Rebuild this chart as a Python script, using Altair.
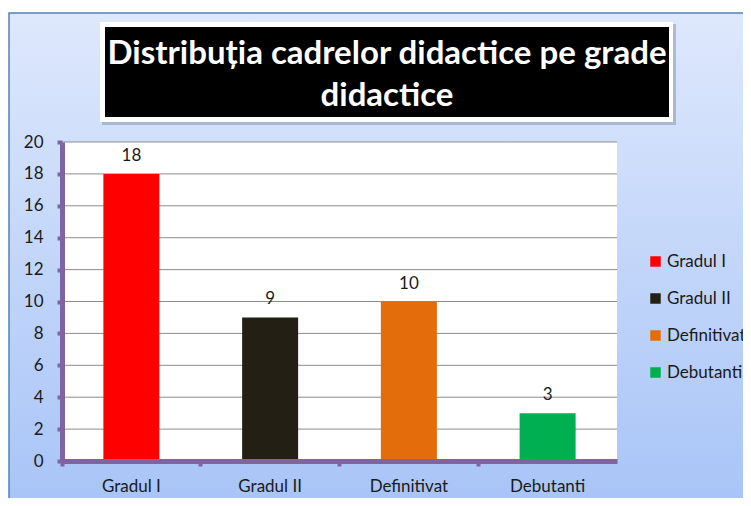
import altair as alt
import pandas as pd

categories = ["Gradul I", "Gradul II", "Definitivat", "Debutanti"]
values = [18, 9, 10, 3]
colors = ["#ff0000", "#231f14", "#e46c0a", "#00b050"]
y_ticks = [0, 2, 4, 6, 8, 10, 12, 14, 16, 18, 20]
title_lines = ["Distribuția cadrelor didactice pe grade", "didactice"]

FONT = "Lato"
W, H = 555, 319

df = pd.DataFrame({"cat": categories, "val": values})
grid_df = pd.DataFrame({"v": y_ticks[1:]})

x_scale = alt.Scale(paddingInner=0, paddingOuter=0)
x_axis = alt.Axis(title=None, bandPosition=0, domainColor="#8064a2", domainWidth=5,
                  tickColor="#8064a2", tickWidth=4, tickSize=5,
                  labelFont=FONT, labelFontSize=17, labelColor="#1a1a1a",
                  labelPadding=12, labelAngle=0, zindex=2, grid=False)
y_scale = alt.Scale(domain=[0, 20])
y_axis = alt.Axis(title=None, values=y_ticks, grid=False, domainColor="#8064a2", domainWidth=5,
                  tickColor="#8064a2", tickWidth=4, tickSize=5,
                  labelFont=FONT, labelFontSize=17, labelColor="#1a1a1a",
                  labelPadding=14, zindex=2)

bg_grad = alt.LinearGradient(gradient="linear", x1=0, y1=0, x2=0, y2=1,
                             stops=[alt.GradientStop(offset=0, color="#dee8fc"),
                                    alt.GradientStop(offset=1, color="#a6c3f7")])

background = alt.Chart(pd.DataFrame({"a": [0]})).mark_rect(
    fill=bg_grad, stroke="#4f81bd", strokeWidth=1.5
).encode(x=alt.value(-53), x2=alt.value(700), y=alt.value(-129), y2=alt.value(380))

plot_bg = alt.Chart(pd.DataFrame({"a": [0]})).mark_rect(fill="white").encode(
    x=alt.value(0), x2=alt.value(W), y=alt.value(0), y2=alt.value(H))

title_shadow = alt.Chart(pd.DataFrame({"a": [0]})).mark_rect(fill="#8e9cb8", opacity=0.6).encode(
    x=alt.value(40), x2=alt.value(614), y=alt.value(-118), y2=alt.value(-17))
title_white = alt.Chart(pd.DataFrame({"a": [0]})).mark_rect(fill="white").encode(
    x=alt.value(38), x2=alt.value(611), y=alt.value(-120), y2=alt.value(-20))
title_black = alt.Chart(pd.DataFrame({"a": [0]})).mark_rect(fill="black").encode(
    x=alt.value(43), x2=alt.value(607), y=alt.value(-115), y2=alt.value(-25))


def title_line(txt, ypos):
    return alt.Chart(pd.DataFrame({"t": [txt]})).mark_text(
        font=FONT, fontSize=33, fontWeight="bold", color="white", baseline="middle", align="center"
    ).encode(x=alt.value(325), y=alt.value(ypos), text="t:N")


title1 = title_line(title_lines[0], -88)
title2 = title_line(title_lines[1], -46)

grid = alt.Chart(grid_df).mark_rule(color="#8c8c8c", strokeWidth=1).encode(
    y=alt.Y("v:Q", scale=y_scale, axis=y_axis),
    x=alt.value(0), x2=alt.value(W))

bars = alt.Chart(df).mark_bar(size=56).encode(
    x=alt.X("cat:N", sort=categories, scale=x_scale, axis=x_axis),
    y=alt.Y("val:Q", scale=y_scale, axis=y_axis),
    color=alt.Color("cat:N", sort=categories,
                    scale=alt.Scale(domain=categories, range=colors),
                    legend=alt.Legend(title=None, orient="none", legendX=585, legendY=111,
                                      symbolType="square", symbolSize=110, symbolStrokeWidth=0,
                                      labelFont=FONT, labelFontSize=17, labelColor="#1a1a1a",
                                      labelOffset=3, rowPadding=19, padding=0, zindex=2)))

labels = alt.Chart(df).mark_text(font=FONT, fontSize=17, color="#1a1a1a", baseline="bottom", dy=-9).encode(
    x=alt.X("cat:N", sort=categories, scale=x_scale, axis=x_axis),
    y=alt.Y("val:Q", scale=y_scale, axis=y_axis),
    text="val:Q")

chart = alt.layer(background, plot_bg, title_shadow, title_white, title_black, title1, title2,
                  grid, bars, labels).properties(
    width=W, height=H,
    autosize=alt.AutoSizeParams(type="none"),
    padding={"left": 54, "top": 134, "right": 126, "bottom": 37},
).configure_view(stroke=None).configure(background="white")

chart.save("out.html", embed_options={"renderer": "svg", "actions": False})
